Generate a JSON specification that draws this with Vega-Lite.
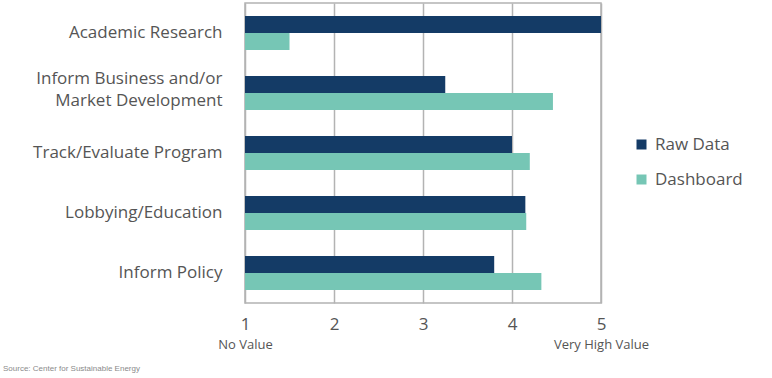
{
  "$schema": "https://vega.github.io/schema/vega-lite/v6.json",
  "width": 356,
  "height": 300,
  "autosize": "none",
  "padding": {"left": 245, "top": 3, "right": 171, "bottom": 75},
  "background": "white",
  "title": {
    "text": "Source: Center for Sustainable Energy",
    "orient": "bottom",
    "anchor": "start",
    "frame": "group",
    "dx": -242,
    "offset": 14,
    "font": "Liberation Sans",
    "fontSize": 8,
    "fontWeight": "normal",
    "color": "#8a8a8a"
  },
  "config": {
    "view": {"stroke": "#b3b3b3", "strokeWidth": 1.5},
    "font": "Open Sans"
  },
  "data": {
    "values": [
      {"category": "Academic Research", "series": "Raw Data", "value": 5.0},
      {"category": "Academic Research", "series": "Dashboard", "value": 1.5},
      {"category": "Inform Business and/or Market Development", "series": "Raw Data", "value": 3.25},
      {"category": "Inform Business and/or Market Development", "series": "Dashboard", "value": 4.46},
      {"category": "Track/Evaluate Program", "series": "Raw Data", "value": 4.0},
      {"category": "Track/Evaluate Program", "series": "Dashboard", "value": 4.2},
      {"category": "Lobbying/Education", "series": "Raw Data", "value": 4.15},
      {"category": "Lobbying/Education", "series": "Dashboard", "value": 4.16},
      {"category": "Inform Policy", "series": "Raw Data", "value": 3.8},
      {"category": "Inform Policy", "series": "Dashboard", "value": 4.33}
    ]
  },
  "encoding": {
    "y": {
      "field": "category",
      "type": "nominal",
      "sort": null,
      "scale": {"paddingInner": 0.433, "paddingOuter": 0.217},
      "axis": {
        "title": null,
        "domain": false,
        "ticks": false,
        "labelFontSize": 17,
        "labelColor": "#555555",
        "labelPadding": 23,
        "labelLineHeight": 22,
        "labelLimit": 300,
        "labelOffset": {"condition": {"test": "datum.value == 'Inform Business and/or Market Development'", "value": -14}, "value": 0},
        "labelExpr": "datum.label == 'Inform Business and/or Market Development' ? ['Inform Business and/or', 'Market Development'] : datum.label"
      }
    },
    "yOffset": {"field": "series", "type": "nominal", "sort": ["Raw Data", "Dashboard"]},
    "x": {
      "field": "value",
      "type": "quantitative",
      "scale": {"domain": [1, 5], "zero": false, "nice": false}
    },
    "x2": {"datum": 1},
    "color": {
      "field": "series",
      "type": "nominal",
      "sort": ["Raw Data", "Dashboard"],
      "scale": {"domain": ["Raw Data", "Dashboard"], "range": ["#143b66", "#76c6b5"]},
      "legend": {
        "title": null,
        "orient": "none",
        "legendX": 388,
        "legendY": 133,
        "symbolType": "square",
        "symbolSize": 100,
        "symbolStrokeWidth": 0,
        "labelFontSize": 17,
        "labelColor": "#555555",
        "labelOffset": 5,
        "rowPadding": 17,
        "padding": 0
      }
    }
  },
  "layer": [
    {
      "mark": {"type": "bar"},
      "encoding": {
        "x": {
          "field": "value",
          "type": "quantitative",
          "scale": {"domain": [1, 5], "zero": false, "nice": false},
          "axis": {
            "title": null,
            "orient": "bottom",
            "values": [1, 2, 3, 4, 5],
            "grid": true,
            "gridColor": "#b3b3b3",
            "gridWidth": 1.5,
            "domain": false,
            "ticks": false,
            "labelFontSize": 17,
            "labelColor": "#555555",
            "labelPadding": 13,
            "labelFlush": false,
            "labelOverlap": false
          }
        }
      }
    },
    {
      "mark": {"type": "bar", "opacity": 0},
      "encoding": {
        "x": {
          "field": "value",
          "type": "quantitative",
          "scale": {"domain": [1, 5], "zero": false, "nice": false},
          "axis": {
            "title": null,
            "orient": "bottom",
            "values": [1, 5],
            "grid": false,
            "domain": false,
            "ticks": false,
            "labelFontSize": 13,
            "labelColor": "#555555",
            "labelPadding": 35,
            "labelFlush": false,
            "labelOverlap": false,
            "labelExpr": "datum.value == 1 ? 'No Value' : 'Very High Value'"
          }
        }
      }
    }
  ],
  "resolve": {"axis": {"x": "independent"}}
}
